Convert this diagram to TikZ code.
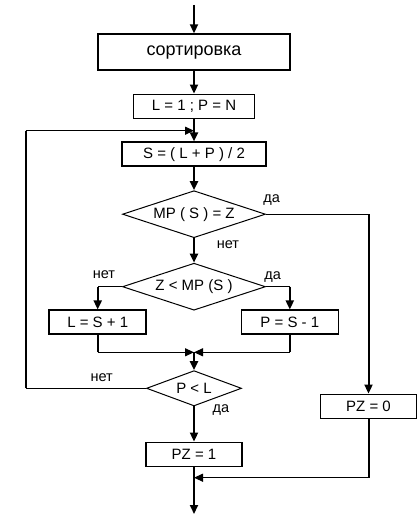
\documentclass[tikz,border=0pt]{standalone}
\usepackage{fontspec}
\setmainfont{Liberation Sans}
\usetikzlibrary{shapes.geometric,arrows.meta}
\begin{document}
\begin{tikzpicture}[x=1pt,y=-1pt,
  box/.style={draw,line width=1.5pt,inner sep=0pt,font=\fontsize{15}{18}\selectfont},
  dia/.style={draw,diamond,aspect=3,line width=1pt,inner sep=0pt,font=\fontsize{15}{18}\selectfont},
  vline/.style={line width=2pt},
  hline/.style={line width=1.2pt},
  tip/.style={-{Triangle[length=9pt,width=8pt]}},
  lab/.style={anchor=base,font=\fontsize{14.5}{17}\selectfont,inner sep=0pt}]
\useasboundingbox (0,0) rectangle (417,521);
% nodes
\node[box,line width=2pt,minimum width=192pt,minimum height=36pt,font=\fontsize{18}{22}\selectfont] (sort) at (194,52.3) {сортировка};
\node[box,minimum width=121pt,minimum height=24pt] (init) at (194,106.3) {L = 1 ; P = N};
\node[box,minimum width=144pt,minimum height=24pt] (calc) at (194,154.2) {S = ( L + P ) / 2};
\node[dia,minimum width=143pt,minimum height=47pt] (d1) at (194,214.2) {MP ( S ) = Z};
\node[dia,minimum width=143pt,minimum height=47pt] (d2) at (194,286.7) {Z < MP (S )};
\node[box,minimum width=97pt,minimum height=24pt] (lbox) at (97.7,322.2) {L = S + 1};
\node[box,minimum width=97pt,minimum height=24pt] (pbox) at (289.8,322.2) {P = S - 1};
\node[dia,aspect=2.7,minimum width=95pt,minimum height=35.3pt] (d3) at (194,388.3) {P < L};
\node[box,minimum width=96pt,minimum height=24pt] (pz1) at (194,454.3) {PZ = 1};
\node[box,minimum width=96pt,minimum height=24pt] (pz0) at (368.5,406.3) {PZ = 0};
% coordinates
\coordinate (top) at (194,5);
\coordinate (loopL) at (25.7,388.3);
\coordinate (loopT) at (25.7,130.7);
\coordinate (loopE) at (194,130.7);
\coordinate (d1R) at (368.5,214.2);
\coordinate (d2L) at (97.7,286.7);
\coordinate (d2R) at (289.8,286.7);
\coordinate (mL) at (97.7,352.3);
\coordinate (mR) at (289.8,352.3);
\coordinate (mC) at (194,352.3);
\coordinate (bR) at (368.5,477.7);
\coordinate (bC) at (194,477.7);
\coordinate (endp) at (194,514);
% connectors
\draw[vline,tip] (top) -- (sort.north);
\draw[vline,tip] (sort.south) -- (init.north);
\draw[vline,tip] (init.south) -- (calc.north);
\draw[vline,tip] (calc.south) -- (d1.north);
\draw[vline,tip] (d1.south) -- (d2.north);
\draw[hline] (d1.east) -- (d1R);
\draw[vline,tip] (d1R) -- (pz0.north);
\draw[hline] (d2.west) -- (d2L);
\draw[vline,tip] (d2L) -- (lbox.north);
\draw[hline] (d2.east) -- (d2R);
\draw[vline,tip] (d2R) -- (pbox.north);
\draw[vline] (lbox.south) -- (mL);
\draw[hline,tip] (mL) -- (mC);
\draw[vline] (pbox.south) -- (mR);
\draw[hline,tip] (mR) -- (mC);
\draw[vline,tip] (mC) -- (d3.north);
\draw[hline] (d3.west) -- (loopL);
\draw[vline] (loopL) -- (loopT);
\draw[hline,tip] (loopT) -- (loopE);
\draw[vline,tip] (d3.south) -- (pz1.north);
\draw[vline] (pz0.south) -- (bR);
\draw[hline,tip] (bR) -- (bC);
\draw[vline,tip] (pz1.south) -- (endp);
% labels
\node[lab] (l1) at (271.7,202.7) {да};
\node[lab] (l2) at (228,248.3) {нет};
\node[lab] (l3) at (104,278.3) {нет};
\node[lab] (l4) at (272.7,279.5) {да};
\node[lab] (l5) at (101.7,381) {нет};
\node[lab] (l6) at (221,412) {да};
\end{tikzpicture}
\end{document}
